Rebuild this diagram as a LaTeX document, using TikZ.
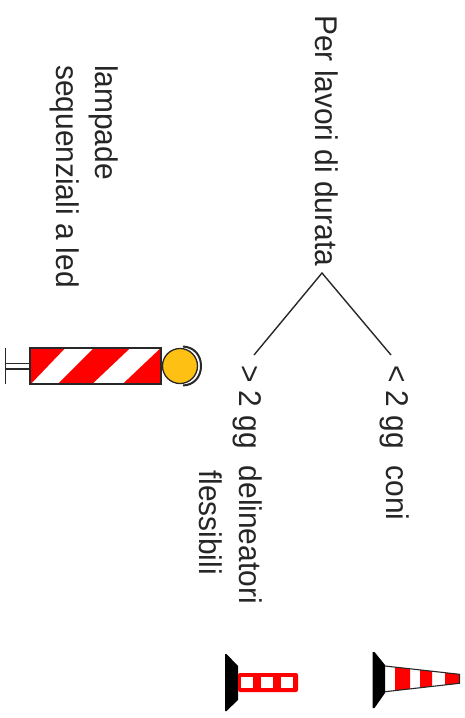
\documentclass[tikz,border=0pt]{standalone}
\usepackage{fontspec}
\setmainfont{Liberation Sans}
\definecolor{lampyellow}{RGB}{255,192,20}
\definecolor{sred}{RGB}{255,0,0}
\definecolor{lineg}{RGB}{40,40,40}
\tikzset{
  lbl/.style={rotate=-90,yscale=1.05,anchor=base west,inner sep=0pt,font=\fontsize{29.9}{34}\selectfont,text=black!85},
  conn/.style={draw=lineg,line width=1.4pt},
  outl/.style={draw=lineg,line width=1.3pt},
}
\begin{document}
\begin{tikzpicture}[x=1pt,y=-1pt]
\useasboundingbox (0,0) rectangle (465,718);
\fill[white] (0,0) rectangle (465,718);
% texts
\node[lbl] (per) at (315.5,15) {Per lavori di durata};
\node[lbl] (lt) at (386,365) {< 2 gg\ \ coni};
\node[lbl] (gt) at (239,365) {> 2 gg\ \ delineatori};
\node[lbl] (fl) at (199,470) {flessibili};
\node[lbl] (la) at (95.5,65) {lampade};
\node[lbl] (se) at (56.5,65) {sequenziali a led};
% connectors
\coordinate (apex) at (322,273);
\coordinate (endl) at (254,355);
\coordinate (endr) at (391,355);
\draw[conn] (endl) -- (apex) -- (endr);
% lamp
\draw[draw=lineg,line width=1.3pt] (5.5,348) -- (5.5,384);
\draw[draw=lineg,line width=1.1pt] (6,363.5) -- (30,363.5) (6,369) -- (30,369);
\fill[sred] (30,348) rectangle (161,384);
\fill[white] (31.5,383.5) -- (58,383.5) -- (93,348.5) -- (65,348.5) -- cycle;
\fill[white] (93,383.5) -- (123,383.5) -- (160,348.5) -- (130,348.5) -- cycle;
\draw[outl] (30,348) rectangle (161,384);
\fill[lampyellow] (180,366) circle (17.5);
\draw[draw=lineg,line width=1.3pt] (180,366) circle (17.5);
\draw[draw=lineg,line width=2pt] (183,346.5) .. controls (194,347) and (201,355) .. (201,366) .. controls (201,377) and (194,385) .. (183,385.5);
% delineator
\fill[black] (225,654) -- (226.5,654) -- (238,666) -- (238,700) -- (226.5,711) -- (225,711) -- cycle;
\fill[sred,rounded corners=2pt] (238,673) rectangle (298,692);
\fill[white] (241,677) rectangle (253,688);
\fill[white] (261,677) rectangle (273,688);
\fill[white] (281,677) rectangle (293,688);
% cone
\fill[white] (385,666) -- (459.5,674.3) -- (459.5,683.3) -- (385,691.7) -- cycle;
\fill[sred] (395,667.1) -- (410,668.8) -- (410,688.9) -- (395,690.6) -- cycle;
\fill[sred] (420,669.9) -- (432,671.2) -- (432,686.4) -- (420,687.8) -- cycle;
\fill[sred] (445,672.7) -- (459.5,674.3) -- (459.5,683.3) -- (445,685) -- cycle;
\draw[draw=lineg,line width=1.1pt] (385,666) -- (459.5,674.3) -- (459.5,683.3) -- (385,691.7);
\fill[black] (372.5,652) -- (374.5,652) -- (385,665) -- (385,693) -- (374.5,708) -- (372.5,708) -- cycle;
\end{tikzpicture}
\end{document}
